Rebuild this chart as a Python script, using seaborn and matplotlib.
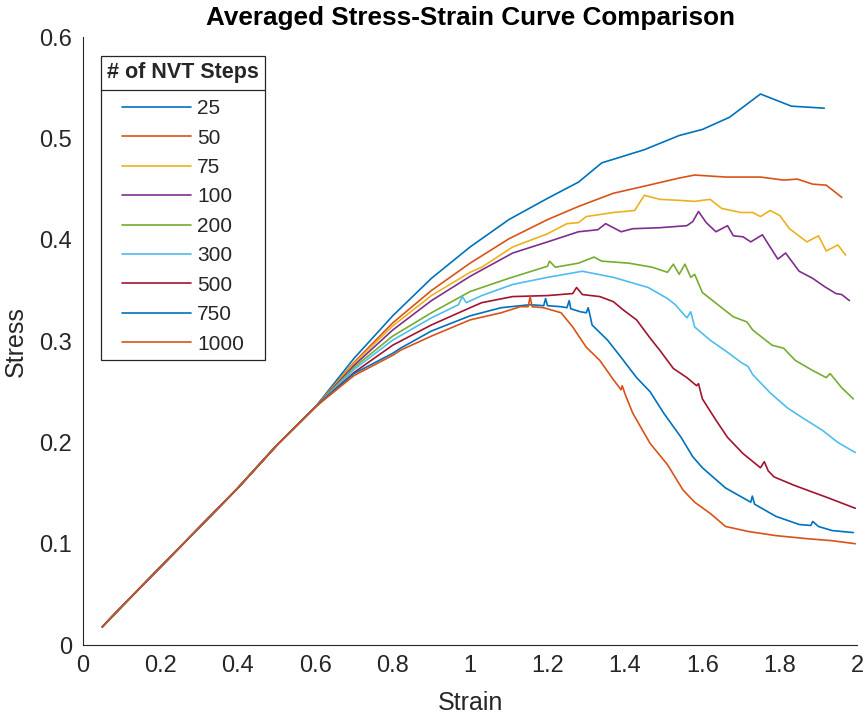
import numpy as np
import pandas as pd
import matplotlib
matplotlib.use("Agg")
import matplotlib.pyplot as plt
import seaborn as sns
from matplotlib.lines import Line2D

steps = ["25", "50", "75", "100", "200", "300", "500", "750", "1000"]
colors = ["#0072BD", "#D95319", "#EDB120", "#7E2F8E", "#77AC30",
          "#4DBEEE", "#A2142F", "#0072BD", "#D95319"]
x_ticks = [0, 0.2, 0.4, 0.6, 0.8, 1, 1.2, 1.4, 1.6, 1.8, 2]
y_ticks = [0, 0.1, 0.2, 0.3, 0.4, 0.5, 0.6]

# shared elastic part
base_x = [0.05, 0.1, 0.2, 0.3, 0.4, 0.45, 0.5, 0.55, 0.6]
base_y = [0.018, 0.038, 0.077, 0.116, 0.155, 0.176, 0.197, 0.216, 0.235]

x25 = [0.7, 0.8, 0.9, 1.0, 1.1, 1.2, 1.28, 1.34, 1.45, 1.54, 1.6, 1.67, 1.75, 1.83, 1.915]
y25 = [0.283, 0.325, 0.362, 0.393, 0.420, 0.441, 0.457, 0.476, 0.489, 0.503, 0.509, 0.521, 0.544, 0.532, 0.530]

x50 = [0.7, 0.8, 0.9, 1.0, 1.1, 1.2, 1.28, 1.37, 1.45, 1.54, 1.58, 1.66, 1.75, 1.81, 1.845, 1.885, 1.92, 1.96]
y50 = [0.279, 0.318, 0.350, 0.377, 0.401, 0.420, 0.433, 0.446, 0.453, 0.461, 0.464, 0.462, 0.462, 0.459, 0.460, 0.455, 0.454, 0.442]

x75 = [0.7, 0.8, 0.9, 1.0, 1.03, 1.11, 1.2, 1.25, 1.28, 1.30, 1.37, 1.425, 1.45, 1.49, 1.54, 1.58, 1.62, 1.65,
       1.70, 1.73, 1.75, 1.775, 1.80, 1.825, 1.87, 1.90, 1.92, 1.95, 1.97]
y75 = [0.278, 0.315, 0.345, 0.368, 0.373, 0.393, 0.406, 0.416, 0.417, 0.423, 0.427, 0.429, 0.444, 0.440, 0.439,
       0.438, 0.440, 0.431, 0.427, 0.427, 0.423, 0.429, 0.424, 0.411, 0.398, 0.404, 0.389, 0.395, 0.385]

x100 = [0.7, 0.8, 0.9, 1.0, 1.11, 1.2, 1.28, 1.33, 1.35, 1.39, 1.42, 1.49, 1.56, 1.575, 1.59, 1.61, 1.635, 1.665,
        1.68, 1.705, 1.725, 1.755, 1.795, 1.815, 1.85, 1.885, 1.915, 1.945, 1.96, 1.98]
y100 = [0.276, 0.311, 0.340, 0.364, 0.387, 0.398, 0.408, 0.410, 0.416, 0.408, 0.411, 0.412, 0.414, 0.418, 0.428,
        0.417, 0.408, 0.414, 0.404, 0.403, 0.398, 0.405, 0.381, 0.387, 0.369, 0.362, 0.354, 0.347, 0.346, 0.340]

x200 = [0.7, 0.8, 0.9, 1.0, 1.1, 1.2, 1.205, 1.22, 1.28, 1.32, 1.34, 1.41, 1.47, 1.51, 1.525, 1.54, 1.555, 1.57,
        1.58, 1.60, 1.64, 1.68, 1.715, 1.73, 1.78, 1.81, 1.84, 1.885, 1.92, 1.93, 1.96, 1.99]
y200 = [0.274, 0.305, 0.328, 0.349, 0.362, 0.374, 0.379, 0.373, 0.377, 0.383, 0.379, 0.377, 0.373, 0.368, 0.376,
        0.366, 0.376, 0.363, 0.366, 0.348, 0.336, 0.324, 0.319, 0.311, 0.296, 0.293, 0.281, 0.271, 0.264, 0.268,
        0.254, 0.243]

x300 = [0.7, 0.8, 0.9, 0.97, 0.98, 0.99, 1.03, 1.11, 1.2, 1.29, 1.37, 1.46, 1.51, 1.53, 1.56, 1.57, 1.58, 1.62,
        1.665, 1.70, 1.718, 1.73, 1.775, 1.82, 1.86, 1.91, 1.95, 1.995]
y300 = [0.272, 0.301, 0.323, 0.336, 0.344, 0.338, 0.345, 0.356, 0.363, 0.369, 0.363, 0.353, 0.342, 0.336, 0.323,
        0.329, 0.314, 0.301, 0.289, 0.279, 0.275, 0.267, 0.249, 0.234, 0.224, 0.212, 0.200, 0.190]

x500 = [0.7, 0.8, 0.9, 1.0, 1.03, 1.11, 1.2, 1.265, 1.275, 1.29, 1.335, 1.37, 1.395, 1.43, 1.465, 1.49, 1.525,
        1.56, 1.585, 1.59, 1.60, 1.635, 1.665, 1.705, 1.75, 1.76, 1.77, 1.785, 1.835, 1.87, 1.92, 1.995]
y500 = [0.269, 0.296, 0.316, 0.333, 0.338, 0.344, 0.345, 0.347, 0.353, 0.346, 0.344, 0.339, 0.331, 0.321, 0.303,
        0.291, 0.273, 0.264, 0.256, 0.258, 0.243, 0.222, 0.205, 0.189, 0.175, 0.181, 0.172, 0.166, 0.158, 0.153,
        0.146, 0.135]

x750 = [0.7, 0.8, 0.82, 0.9, 1.0, 1.08, 1.155, 1.19, 1.195, 1.2, 1.235, 1.25, 1.256, 1.26, 1.285, 1.30, 1.305,
        1.31, 1.315, 1.355, 1.39, 1.43, 1.465, 1.50, 1.545, 1.575, 1.60, 1.66, 1.725, 1.729, 1.735, 1.79, 1.85,
        1.88, 1.885, 1.90, 1.935, 1.99]
y750 = [0.268, 0.288, 0.293, 0.310, 0.325, 0.333, 0.336, 0.335, 0.342, 0.335, 0.334, 0.333, 0.340, 0.332, 0.329,
        0.328, 0.333, 0.325, 0.316, 0.301, 0.284, 0.264, 0.250, 0.229, 0.205, 0.186, 0.175, 0.155, 0.141, 0.147,
        0.139, 0.127, 0.119, 0.118, 0.122, 0.117, 0.113, 0.111]

x1000 = [0.7, 0.8, 0.82, 0.9, 1.0, 1.08, 1.13, 1.15, 1.155, 1.16, 1.19, 1.235, 1.265, 1.30, 1.335, 1.37, 1.39,
         1.393, 1.40, 1.42, 1.465, 1.51, 1.55, 1.58, 1.62, 1.66, 1.72, 1.79, 1.87, 1.935, 1.995]
y1000 = [0.266, 0.286, 0.291, 0.305, 0.321, 0.328, 0.334, 0.334, 0.344, 0.334, 0.333, 0.328, 0.314, 0.294, 0.281,
         0.262, 0.252, 0.256, 0.248, 0.229, 0.199, 0.178, 0.153, 0.141, 0.130, 0.117, 0.112, 0.108, 0.105, 0.103,
         0.100]

tails = {"25": (x25, y25), "50": (x50, y50), "75": (x75, y75), "100": (x100, y100),
         "200": (x200, y200), "300": (x300, y300), "500": (x500, y500),
         "750": (x750, y750), "1000": (x1000, y1000)}

rows = []
for s in steps:
    tx, ty = tails[s]
    for xv, yv in zip(base_x + tx, base_y + ty):
        rows.append({"Strain": xv, "Stress": yv, "steps": s})
df = pd.DataFrame(rows)

sns.set_style("white")
plt.rcParams["font.family"] = ["Liberation Sans", "DejaVu Sans"]
dark = "#262626"

fig = plt.figure(figsize=(8.65, 7.17), dpi=100)
ax = fig.add_axes([0.096, 0.1004, 0.8950, 0.8476])

sns.lineplot(data=df, x="Strain", y="Stress", hue="steps", hue_order=steps,
             palette=colors, estimator=None, sort=False, linewidth=1.2, ax=ax)

ax.set_xlim(0, 2)
ax.set_ylim(0, 0.6)
ax.set_xticks(x_ticks)
ax.set_yticks(y_ticks)
ax.set_xticklabels([f"{v:g}" for v in x_ticks])
ax.set_yticklabels([f"{v:g}" for v in y_ticks])
ax.tick_params(axis="both", direction="in", length=5, width=0.8, colors=dark,
               labelsize=17, labelcolor=dark)
ax.tick_params(axis="x", pad=7)
ax.tick_params(axis="y", pad=8)
for side in ["top", "right"]:
    ax.spines[side].set_visible(False)
for side in ["left", "bottom"]:
    ax.spines[side].set_color(dark)
    ax.spines[side].set_linewidth(0.8)

ax.set_xlabel("Strain", fontsize=18, color=dark, labelpad=10)
ax.set_ylabel("Stress", fontsize=18, color=dark, labelpad=8)
ax.set_title("Averaged Stress-Strain Curve Comparison", fontsize=18.8,
             fontweight="bold", color="black", pad=9)

handles, labels = ax.get_legend_handles_labels()
for h in handles:
    h.set_linewidth(1.2)
leg = ax.legend(handles, labels, title="# of NVT Steps", loc="upper left",
                bbox_to_anchor=(0.0233, 0.970), borderaxespad=0, frameon=True,
                fancybox=False, edgecolor=dark, framealpha=1, fontsize=15,
                title_fontproperties={"weight": "bold", "size": 15.5},
                handlelength=3.3, handletextpad=0.3, borderpad=0.29,
                labelspacing=0.5)
leg.get_frame().set_linewidth(0.9)
# extra gap between the legend title and the entries
leg._legend_box.sep = 0.5 * 15 + 4.5

fig.canvas.draw()
r = fig.canvas.get_renderer()
tb = leg.get_title().get_window_extent(r)
fb = leg.get_frame().get_window_extent(r)
ysep = tb.y0 - 7.0
H = fig.bbox.height
W = fig.bbox.width
fig.add_artist(Line2D([fb.x0 / W, fb.x1 / W], [ysep / H, ysep / H],
                      transform=fig.transFigure, color=dark, linewidth=0.9))

fig.savefig("out.png", dpi=100)
